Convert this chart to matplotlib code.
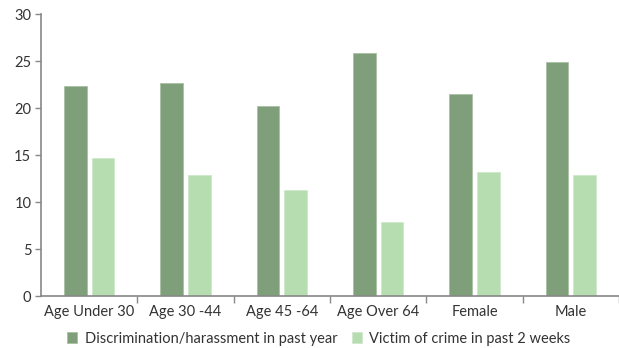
import numpy as np
import matplotlib.pyplot as plt

categories = ['Age Under 30', 'Age 30 -44', 'Age 45 -64', 'Age Over 64', 'Female', 'Male']
discrimination = [22.4, 22.7, 20.2, 25.9, 21.5, 24.9]
crime = [14.7, 12.9, 11.3, 7.9, 13.2, 12.9]
series_names = ['Discrimination/harassment in past year', 'Victim of crime in past 2 weeks']

plt.rcParams['font.family'] = ['Lato', 'DejaVu Sans']

fig = plt.figure(figsize=(6.19, 3.48), dpi=100)
ax = fig.add_axes([41 / 619, (348 - 296.3) / 348, 1 - 41 / 619, (296.3 - 14) / 348])

x = np.arange(len(categories))
w = 0.235
ax.bar(x - 0.145, discrimination, w, color='#7f9f7b', edgecolor='#a9c2a5', linewidth=0.6,
       label=series_names[0])
ax.bar(x + 0.145, crime, w, color='#b6ddaf', edgecolor='#cfe8c9', linewidth=0.6,
       label=series_names[1])

ax.set_xlim(-0.5, len(categories) - 0.5)
ax.set_ylim(0, 30)
ax.set_yticks(range(0, 31, 5))
ax.set_xticks(x)
ax.set_xticklabels(categories)
ax.set_xticks(np.arange(len(categories)) + 0.5, minor=True)
ax.tick_params(axis='x', which='major', length=0, pad=6)
ax.tick_params(axis='x', which='minor', length=5, color='#888888', width=1)
ax.tick_params(axis='y', length=4, color='#888888', width=1, pad=3)
ax.tick_params(labelsize=10.5, labelcolor='#333333')

for s in ['top', 'right']:
    ax.spines[s].set_visible(False)
for s in ['left', 'bottom']:
    ax.spines[s].set_color('#888888')
    ax.spines[s].set_linewidth(1.2)

fig.legend(loc='center', bbox_to_anchor=(0.515, 0.027), ncol=2, frameon=False,
           fontsize=10.5, handlelength=0.7, handleheight=0.7, handletextpad=0.5,
           columnspacing=1.0, labelcolor='#333333')

fig.savefig('out.png', dpi=100)
